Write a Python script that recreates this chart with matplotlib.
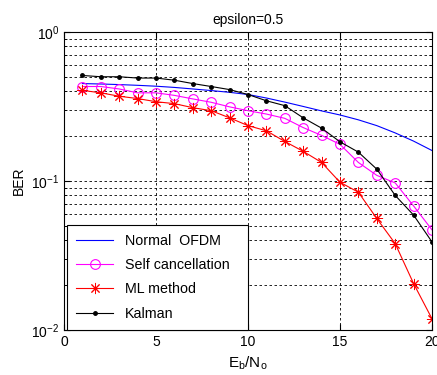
import matplotlib
matplotlib.use('Agg')
import matplotlib.pyplot as plt
import numpy as np

# ========== data ==========
eb_no = np.arange(1, 21)

ber_normal = [0.45, 0.447, 0.443, 0.438, 0.432, 0.424, 0.414, 0.404, 0.393, 0.38,
              0.36, 0.338, 0.316, 0.295, 0.277, 0.257, 0.235, 0.21, 0.185, 0.16]
ber_self = [0.43, 0.43, 0.414, 0.39, 0.39, 0.375, 0.355, 0.337, 0.314, 0.296,
            0.281, 0.263, 0.228, 0.202, 0.176, 0.133, 0.109, 0.097, 0.068, 0.047]
ber_ml = [0.405, 0.39, 0.37, 0.357, 0.34, 0.33, 0.31, 0.296, 0.265, 0.235,
          0.217, 0.184, 0.158, 0.133, 0.098, 0.084, 0.056, 0.038, 0.0205, 0.0119]
ber_kalman = [0.51, 0.50, 0.50, 0.49, 0.49, 0.474, 0.45, 0.43, 0.41, 0.38,
              0.345, 0.32, 0.265, 0.226, 0.183, 0.156, 0.120, 0.080, 0.059, 0.039]

labels = ['Normal  OFDM', 'Self cancellation', 'ML method', 'Kalman']

# ========== plot ==========
plt.rcParams['font.family'] = ['Liberation Sans', 'DejaVu Sans']
plt.rcParams['font.size'] = 10
plt.rcParams['mathtext.fontset'] = 'custom'
plt.rcParams['mathtext.rm'] = 'Liberation Sans'
plt.rcParams['mathtext.it'] = 'Liberation Sans'

fig = plt.figure(figsize=(4.37, 3.75), dpi=100)
ax = fig.add_axes([0.1465, 0.12, 0.842, 0.795])

ax.semilogy(eb_no, ber_normal, color='blue', lw=0.8, label=labels[0])
ax.semilogy(eb_no, ber_self, color='magenta', lw=0.8, marker='o', ms=7,
            mfc='none', mew=0.8, label=labels[1])
ax.semilogy(eb_no, ber_ml, color='red', lw=0.8, marker=(8, 2, 0), ms=8,
            mew=0.7, label=labels[2])
ax.semilogy(eb_no, ber_kalman, color='black', lw=0.8, marker='.', ms=5,
            label=labels[3])

ax.set_xlim(0, 20)
ax.set_ylim(1e-2, 1)
ax.set_xticks([0, 5, 10, 15, 20])
ax.grid(True, which='major', ls=(0, (3, 3)), color='black', lw=0.6)
ax.grid(True, which='minor', axis='y', ls=(0, (3, 3)), color='black', lw=0.6)
ax.tick_params(which='both', direction='in', top=True, right=True)
ax.tick_params(which='major', length=4)
ax.tick_params(which='minor', length=2)

ax.set_title('epsilon=0.5', fontsize=10)
ax.set_xlabel(r'E$_\mathrm{b}$/N$_\mathrm{o}$', fontsize=11)
ax.set_ylabel('BER', fontsize=10)

leg = ax.legend(loc='lower left', bbox_to_anchor=(0.008, 0.0, 0.492, 0.35),
                mode='expand', fancybox=False, edgecolor='black',
                framealpha=1, borderaxespad=0.0, borderpad=0.65,
                handlelength=2.6, labelspacing=0.72, fontsize=10.3,
                numpoints=1)
leg.get_frame().set_linewidth(0.8)

fig.savefig('out.png', dpi=100)
